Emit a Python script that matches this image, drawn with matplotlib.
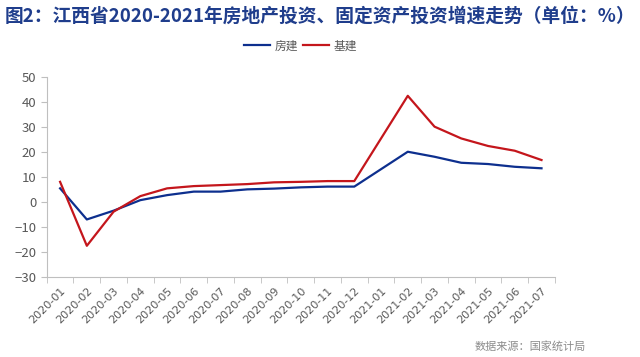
import matplotlib.pyplot as plt
import numpy as np

plt.rcParams['font.family'] = ['Noto Sans CJK SC', 'DejaVu Sans']

months = ['2020-01', '2020-02', '2020-03', '2020-04', '2020-05', '2020-06', '2020-07',
          '2020-08', '2020-09', '2020-10', '2020-11', '2020-12', '2021-01', '2021-02',
          '2021-03', '2021-04', '2021-05', '2021-06', '2021-07']
# 2021-01 has no value (Jan-Feb reported together)
fangjian = [5.5, -6.9, -3.4, 0.8, 2.8, 4.2, 4.2, 5.1, 5.4, 5.9, 6.2, 6.2, None,
            20.1, 18.1, 15.7, 15.2, 14.1, 13.5]
jijian = [8.1, -17.4, -3.8, 2.4, 5.5, 6.4, 6.8, 7.2, 7.9, 8.1, 8.4, 8.4, None,
          42.4, 30.1, 25.4, 22.4, 20.5, 16.8]

fig = plt.figure(figsize=(6.4, 3.57), dpi=100)
ax = fig.add_axes([0.073, 0.223, 0.794, 0.562])

x = np.arange(len(months))
for vals, col, lab in [(fangjian, '#0d2f8e', '房建'), (jijian, '#c4161c', '基建')]:
    xs = [i for i, v in zip(x, vals) if v is not None]
    ys = [v for v in vals if v is not None]
    ax.plot(xs, ys, color=col, lw=1.6, label=lab)

ax.set_xlim(-0.5, len(months) - 0.5)
ax.set_ylim(-30, 50)
ax.set_yticks(range(-30, 51, 10))
ax.set_xticks(x)
ax.set_xticklabels(months, rotation=45, ha='right', rotation_mode='anchor',
                   fontsize=8, color='#595959', family='DejaVu Sans')
ax.set_xticks(np.arange(-0.5, len(months), 1), minor=True)
ax.tick_params(axis='x', which='major', length=0, pad=6)
ax.tick_params(axis='x', which='minor', length=4, color='#bfbfbf')
ax.tick_params(axis='y', length=4, color='#bfbfbf', labelsize=9.5, labelcolor='#595959')

for s in ['top', 'right']:
    ax.spines[s].set_visible(False)
for s in ['left', 'bottom']:
    ax.spines[s].set_color('#bfbfbf')

ax.legend(loc='upper center', bbox_to_anchor=(0.5, 1.24), ncol=2, frameon=False,
          fontsize=8.5, labelcolor='#595959', handlelength=2.2, handletextpad=0.4,
          columnspacing=0.4)

fig.text(0.008, 0.955, '图2：江西省2020-2021年房地产投资、固定资产投资增速走势（单位：%）',
         fontsize=13.5, fontweight='bold', color='#1f3d8c', va='center', ha='left')
fig.text(0.915, 0.03, '数据来源：国家统计局', fontsize=8, color='#8c8c8c', ha='right', va='center')

fig.savefig('out.png', dpi=100, facecolor='white')
